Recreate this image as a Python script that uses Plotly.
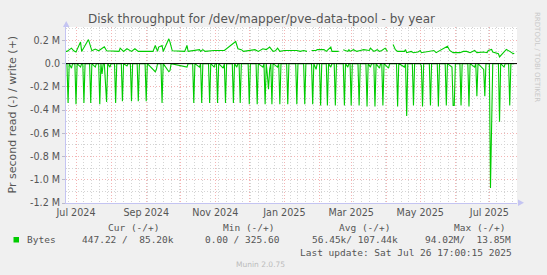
import plotly.graph_objects as go

# ---------------- data (values in millions of bytes / second) ----------------
write_dates = [
    "2024-06-22", "2024-06-23", "2024-06-27", "2024-06-29", "2024-07-01", "2024-07-05", "2024-07-06",
    "2024-07-12", "2024-07-15", "2024-07-18", "2024-07-21", "2024-07-26", "2024-07-28", "2024-08-08",
    "2024-08-09", "2024-08-12", "2024-08-15", "2024-08-19", "2024-08-22", "2024-08-25", "2024-09-07",
    "2024-09-09", "2024-09-11", "2024-09-12", "2024-09-15", "2024-09-16", "2024-09-21", "2024-09-22",
    "2024-09-24", "2024-10-05", "2024-10-07", "2024-10-08", "2024-10-18", "2024-10-19", "2024-10-21",
    "2024-10-23", "2024-10-31", "2024-11-09", "2024-11-19", "2024-11-21", "2024-11-24", "2024-11-26",
    "2024-12-06", "2024-12-09", "2024-12-13", "2024-12-16", "2024-12-19", "2024-12-22", "2024-12-24",
    "2024-12-26", "2024-12-28", "2025-01-01", "2025-01-10", "2025-01-12", "2025-01-15", "2025-01-18",
    "2025-01-21", "2025-01-22", "2025-01-25", "2025-01-29", "2025-01-30", "2025-02-05", "2025-02-07",
    "2025-02-08", "2025-02-11", "2025-02-12", "2025-02-18", "2025-02-19", "2025-02-22", "2025-02-26",
    "2025-02-27", "2025-02-28", "2025-03-03", "2025-03-06", "2025-03-09", "2025-03-12", "2025-03-17",
    "2025-03-18", "2025-03-21", "2025-03-24", "2025-03-26", "2025-03-28", "2025-03-31", "2025-04-02",
    "2025-04-03", "2025-04-07", "2025-04-09", "2025-04-11", "2025-04-17", "2025-04-18", "2025-04-19",
    "2025-04-23", "2025-04-25", "2025-04-29", "2025-05-01", "2025-05-02", "2025-05-13", "2025-05-15",
    "2025-05-25", "2025-05-27", "2025-05-29", "2025-05-30", "2025-06-05", "2025-06-08", "2025-06-11",
    "2025-06-14", "2025-06-18", "2025-06-20", "2025-06-26", "2025-06-29", "2025-06-30", "2025-07-03",
    "2025-07-04", "2025-07-07", "2025-07-09", "2025-07-10", "2025-07-12", "2025-07-15", "2025-07-16",
    "2025-07-19", "2025-07-22", "2025-07-23",
]
write_values = [
    0.105, 0.105, 0.133, 0.110, 0.100, 0.185, 0.105,
    0.207, 0.110, 0.125, 0.110, 0.145, 0.110, 0.105,
    0.133, 0.105, 0.128, 0.105, 0.128, 0.105, 0.105,
    0.156, 0.105, 0.142, 0.156, 0.105, 0.213, 0.185,
    0.110, 0.105, 0.156, 0.105, 0.120, 0.105, 0.120,
    0.105, 0.113, 0.113, 0.190, 0.128, 0.120, 0.105,
    0.120, 0.105, 0.128, 0.120, 0.142, 0.105, 0.110,
    0.133, 0.105, 0.113, 0.113, 0.113, 0.105, 0.113,
    0.105, None, 0.113, 0.113, 0.120, 0.120, 0.105,
    0.113, 0.142, 0.105, 0.105, None, 0.120, 0.105,
    0.120, 0.105, 0.120, 0.105, 0.113, 0.120, 0.113,
    0.133, 0.105, 0.120, 0.105, 0.113, 0.133, 0.105,
    None, 0.165, 0.120, 0.105, 0.105, 0.120, 0.094,
    0.105, 0.094, 0.100, 0.113, 0.094, 0.113, 0.094,
    0.150, 0.113, 0.105, 0.094, 0.094, 0.105, 0.105,
    0.094, 0.113, 0.094, 0.100, 0.094, 0.113, 0.122,
    0.100, 0.094, 0.085, 0.057, 0.077, 0.113, 0.122,
    0.105, 0.085, 0.090,
]

read_dates = [
    "2024-06-22", "2024-06-23", "2024-06-24", "2024-06-25", "2024-06-27", "2024-06-28", "2024-06-30",
    "2024-07-01", "2024-07-02", "2024-07-05", "2024-07-06", "2024-07-07", "2024-07-08", "2024-07-09",
    "2024-07-13", "2024-07-14", "2024-07-15", "2024-07-18", "2024-07-19", "2024-07-21", "2024-07-22",
    "2024-07-23", "2024-07-24", "2024-07-25", "2024-07-26", "2024-07-27", "2024-07-28", "2024-07-29",
    "2024-07-31", "2024-08-01", "2024-08-04", "2024-08-05", "2024-08-06", "2024-08-10", "2024-08-11",
    "2024-08-12", "2024-08-15", "2024-08-16", "2024-08-18", "2024-08-19", "2024-08-20", "2024-08-24",
    "2024-08-25", "2024-08-26", "2024-08-31", "2024-09-01", "2024-09-02", "2024-09-09", "2024-09-10",
    "2024-09-11", "2024-09-14", "2024-09-15", "2024-09-16", "2024-09-21", "2024-09-22", "2024-09-23",
    "2024-10-07", "2024-10-08", "2024-10-12", "2024-10-13", "2024-10-14", "2024-10-18", "2024-10-19",
    "2024-10-20", "2024-10-21", "2024-10-26", "2024-10-27", "2024-10-28", "2024-10-31", "2024-11-01",
    "2024-11-02", "2024-11-03", "2024-11-04", "2024-11-08", "2024-11-09", "2024-11-10", "2024-11-11",
    "2024-11-16", "2024-11-17", "2024-11-18", "2024-11-20", "2024-11-21", "2024-11-22", "2024-11-23",
    "2024-11-24", "2024-11-30", "2024-12-01", "2024-12-02", "2024-12-07", "2024-12-08", "2024-12-09",
    "2024-12-13", "2024-12-14", "2024-12-15", "2024-12-16", "2024-12-17", "2024-12-18", "2024-12-19",
    "2024-12-20", "2024-12-21", "2024-12-22", "2024-12-26", "2024-12-27", "2024-12-28", "2024-12-29",
    "2025-01-03", "2025-01-04", "2025-01-05", "2025-01-11", "2025-01-12", "2025-01-13", "2025-01-18",
    "2025-01-19", "2025-01-20", "2025-01-25", "2025-01-26", "2025-01-27", "2025-01-29", "2025-01-30",
    "2025-02-01", "2025-02-02", "2025-02-03", "2025-02-07", "2025-02-08", "2025-02-09", "2025-02-11",
    "2025-02-12", "2025-02-14", "2025-02-15", "2025-02-16", "2025-02-22", "2025-02-23", "2025-02-24",
    "2025-02-26", "2025-02-27", "2025-02-28", "2025-03-01", "2025-03-02", "2025-03-07", "2025-03-08",
    "2025-03-09", "2025-03-14", "2025-03-15", "2025-03-16", "2025-03-18", "2025-03-19", "2025-03-21",
    "2025-03-22", "2025-03-23", "2025-03-26", "2025-03-27", "2025-03-28", "2025-03-29", "2025-03-30",
    "2025-04-03", "2025-04-04", "2025-04-10", "2025-04-11", "2025-04-12", "2025-04-17", "2025-04-18",
    "2025-04-19", "2025-04-20", "2025-04-24", "2025-04-25", "2025-04-26", "2025-05-01", "2025-05-02",
    "2025-05-03", "2025-05-04", "2025-05-09", "2025-05-10", "2025-05-11", "2025-05-16", "2025-05-17",
    "2025-05-18", "2025-05-23", "2025-05-24", "2025-05-25", "2025-05-29", "2025-05-30", "2025-05-31",
    "2025-06-01", "2025-06-05", "2025-06-06", "2025-06-07", "2025-06-12", "2025-06-13", "2025-06-14",
    "2025-06-18", "2025-06-19", "2025-06-20", "2025-06-21", "2025-06-26", "2025-06-27", "2025-06-28",
    "2025-07-01", "2025-07-02", "2025-07-03", "2025-07-04", "2025-07-09", "2025-07-10", "2025-07-11",
    "2025-07-14", "2025-07-15", "2025-07-18", "2025-07-19", "2025-07-20", "2025-07-23",
]
read_values = [
    0, 0, -0.34, 0, -0.04, 0, 0,
    -0.35, 0, -0.03, 0, 0, -0.34, 0,
    0, -0.34, 0, -0.03, 0, 0, -0.35,
    0, -0.09, 0, 0, -0.15, -0.33, 0,
    -0.03, 0, 0, -0.34, 0, 0, -0.325,
    0, -0.02, 0, 0, -0.325, 0, 0,
    -0.325, 0, 0, -0.325, 0, -0.07, -0.05,
    0, 0, -0.34, 0, -0.07, -0.06, 0,
    -0.03, 0, 0, -0.34, 0, -0.03, 0,
    -0.34, 0, 0, -0.34, 0, -0.03, 0,
    0, -0.34, 0, -0.04, 0, -0.34, 0,
    0, -0.34, 0, -0.03, 0, 0, -0.34,
    0, 0, -0.35, 0, 0, -0.35, 0,
    -0.03, 0, -0.35, 0, -0.10, -0.22, -0.05,
    0, -0.35, 0, -0.03, 0, -0.35, 0,
    0, -0.35, 0, 0, -0.35, 0, 0,
    -0.35, 0, 0, -0.35, 0, -0.05, 0,
    0, -0.36, 0, 0, -0.36, 0, -0.03,
    0, 0, -0.36, 0, 0, -0.36, 0,
    -0.03, 0, 0, -0.36, 0, 0, -0.36,
    0, 0, -0.37, 0, -0.03, 0, 0,
    -0.37, 0, -0.04, 0, 0, -0.36, 0,
    -0.04, 0, 0, -0.37, 0, -0.03, 0,
    -0.45, 0, 0, -0.36, 0, 0, -0.02,
    -0.37, 0, 0, -0.36, 0, 0, -0.37,
    0, 0, -0.36, 0, -0.03, -0.36, -0.36,
    0, 0, -0.36, 0, 0, -0.37, 0,
    -0.03, 0, -0.28, 0, -0.05, -0.28, 0,
    0, -1.07, -0.28, 0, 0, -0.50, 0,
    -0.03, 0, 0, -0.36, 0, 0,
]

month_ticks = ["2024-07-01", "2024-08-01", "2024-09-01", "2024-10-01", "2024-11-01", "2024-12-01",
               "2025-01-01", "2025-02-01", "2025-03-01", "2025-04-01", "2025-05-01", "2025-06-01",
               "2025-07-01"]
month_labels = ["Jul 2024", "", "Sep 2024", "", "Nov 2024", "", "Jan 2025", "", "Mar 2025", "",
                "May 2025", "", "Jul 2025"]
y_ticks = [0.2, 0.0, -0.2, -0.4, -0.6, -0.8, -1.0, -1.2]
y_labels = ["0.2 M", "0.0", "-0.2 M", "-0.4 M", "-0.6 M", "-0.8 M", "-1.0 M", "-1.2 M"]
x_range = ["2024-06-22 04:00", "2025-07-25 10:00"]
y_range = [-1.2, 0.315]

title_text = "Disk throughput for /dev/mapper/pve-data-tpool - by year"
y_title = "Pr second read (-) / write (+)"
legend_headers = ["Cur (-/+)", "Min (-/+)", "Avg (-/+)", "Max (-/+)"]
legend_values = ["447.22 /  85.20k", "0.00 / 325.60", "56.45k/ 107.44k", "94.02M/  13.85M"]
series_name = "Bytes"
last_update = "Last update: Sat Jul 26 17:00:15 2025"
munin_version = "Munin 2.0.75"
watermark = "RRDTOOL / TOBI OETIKER"

# ---------------- layout helpers ----------------
W, H = 547, 275
L, R, T, B = 66, 517, 27, 203
GREEN = "#00CC00"
TXT = "#555555"
AXIS = "#C4C4F2"
SANS = "DejaVu Sans"
MONO = "DejaVu Sans Mono"


def px(x):
    return (x - L) / (R - L)


def py(y):
    return (B - y) / (B - T)


def nb(s):
    return s.replace(" ", "\u00a0")


fig = go.Figure()
fig.add_trace(go.Scatter(x=write_dates, y=write_values, mode="lines", connectgaps=False,
                         line=dict(color=GREEN, width=1.1), hoverinfo="skip"))
fig.add_trace(go.Scatter(x=read_dates, y=read_values, mode="lines", connectgaps=False,
                         line=dict(color=GREEN, width=1.1), hoverinfo="skip"))

annotations = []


def ann(text, x, y, size, color=TXT, family=MONO, anchor="left", angle=0):
    annotations.append(dict(text=nb(text), x=px(x), y=py(y), xref="paper", yref="paper",
                            xanchor=anchor, yanchor="middle", showarrow=False, textangle=angle,
                            font=dict(family=family, size=size, color=color)))


ann(title_text, 261.5, 19, 12, color=TXT, family=SANS, anchor="center")
ann(y_title, 11.5, 115, 11, color=TXT, family=SANS, anchor="center", angle=-90)
ann(watermark, 537, 57, 7, color="#C8C8C8", family=SANS, anchor="center", angle=90)

header_x = [106, 221, 336.7, 451.7]
value_x = [80, 203.3, 310, 422.7]
for hx, h in zip(header_x, legend_headers):
    ann(h, hx, 227.5, 9.5)
ann(series_name, 25, 239.5, 9.5)
for vx, v in zip(value_x, legend_values):
    ann(v, vx, 239.5, 9.5)
ann(last_update, 297.7, 252, 9.5)
ann(munin_version, 260.7, 264.5, 7.5, color="#BBBBBB", family=SANS, anchor="center")

shapes = [
    # zero line on top of the data
    dict(type="line", xref="paper", yref="y", x0=0, x1=1, y0=0, y1=0,
         line=dict(color="#000000", width=1), layer="above"),
    # legend colour box
    dict(type="rect", xref="paper", yref="paper", x0=px(13.5), x1=px(19), y0=py(242.5), y1=py(237),
         fillcolor=GREEN, line=dict(width=0)),
    # axis arrows
    dict(type="path", xref="paper", yref="paper",
         path=f"M {px(63)} {py(27)} L {px(69.5)} {py(27)} L {px(66.2)} {py(21)} Z",
         fillcolor=AXIS, line=dict(width=0)),
    dict(type="path", xref="paper", yref="paper",
         path=f"M {px(518)} {py(199.5)} L {px(518)} {py(206)} L {px(524)} {py(202.7)} Z",
         fillcolor=AXIS, line=dict(width=0)),
]

fig.update_layout(
    width=W, height=H,
    margin=dict(l=L, r=W - R, t=T, b=H - B, pad=0),
    paper_bgcolor="#F0F0F0", plot_bgcolor="#FFFFFF",
    showlegend=False,
    annotations=annotations, shapes=shapes,
    xaxis=dict(
        type="date", range=x_range, tickmode="array", tickvals=month_ticks, ticktext=month_labels,
        showgrid=True, gridcolor="#F4B4B4", gridwidth=1, griddash="1px,2px",
        minor=dict(tickmode="linear", tick0="2024-07-01", dtick=7 * 86400000, showgrid=True,
                   gridcolor="#D4D4D4", gridwidth=1, griddash="1px,2px"),
        showline=True, linecolor=AXIS, linewidth=1, zeroline=False,
        ticks="", tickfont=dict(family=SANS, size=9.6, color=TXT),
        fixedrange=True,
    ),
    yaxis=dict(
        range=y_range, tickmode="array", tickvals=y_ticks, ticktext=y_labels,
        showgrid=True, gridcolor="#F4B4B4", gridwidth=1, griddash="1px,2px",
        minor=dict(tickmode="linear", tick0=0, dtick=0.1, showgrid=True,
                   gridcolor="#D4D4D4", gridwidth=1, griddash="1px,2px"),
        showline=True, linecolor=AXIS, linewidth=1, zeroline=False,
        ticks="outside", ticklen=3, tickcolor="#BBBBCC",
        tickfont=dict(family=SANS, size=9.6, color=TXT),
        fixedrange=True,
    ),
)

fig.write_html("out.html", config={"displayModeBar": False})
